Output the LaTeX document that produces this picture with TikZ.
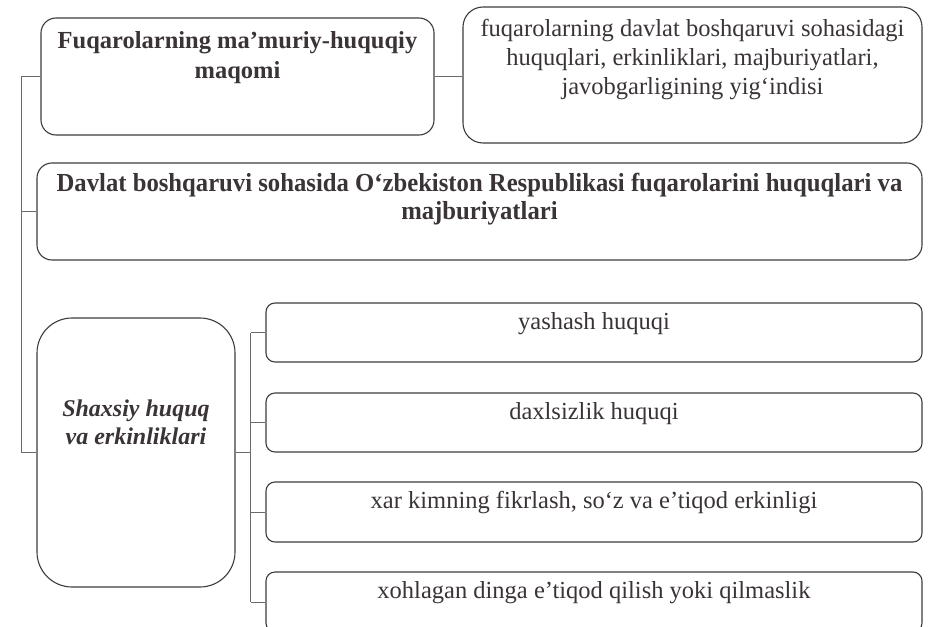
\documentclass[tikz,border=0pt]{standalone}
\usepackage{fontspec}
\setmainfont{Liberation Serif}
\newfontfamily\condfont[FakeStretch=0.95]{Liberation Serif}
\usetikzlibrary{calc}
\definecolor{txt}{HTML}{3A3436}
\definecolor{bord}{HTML}{3C3C3C}
\definecolor{conn}{HTML}{6A6A6A}
\tikzset{
  box/.style={draw=bord, line width=1.1pt, rounded corners=#1, inner sep=0pt},
  box/.default=15pt,
  lbl/.style={anchor=north, align=center, text=txt, inner sep=0pt, font=\fontsize{24.5}{29}\selectfont},
  conline/.style={draw=conn, line width=1pt}
}
\begin{document}
\begin{tikzpicture}[x=1pt,y=-1pt]
\clip (0,0) rectangle (928,626);
\fill[white] (0,0) rectangle (928,626);
% boxes
\node[box=15pt, minimum width=393pt, minimum height=117pt] (b1) at (237.5,76.5) {};
\node[box=20pt, minimum width=459pt, minimum height=136pt] (b2) at (692.5,75) {};
\node[box=15pt, minimum width=885pt, minimum height=97pt] (dv) at (479.5,211.5) {};
\node[box=35pt, minimum width=198pt, minimum height=269pt] (sh) at (136,452.5) {};
\node[box=9pt, minimum width=656pt, minimum height=59pt] (y1) at (594,332.5) {};
\node[box=9pt, minimum width=656pt, minimum height=59pt] (y2) at (594,422.5) {};
\node[box=9pt, minimum width=656pt, minimum height=60pt] (y3) at (594,512) {};
\node[box=9pt, minimum width=656pt, minimum height=60pt] (y4) at (594,602) {};
% texts
\node[lbl, font=\fontsize{24.5}{30}\selectfont\bfseries] (t1) at ($(b1.north)+(0,14)$) {Fuqarolarning ma’muriy-huquqiy\\maqomi};
\node[lbl] (t2) at ($(b2.north)+(0,13)$) {fuqarolarning davlat boshqaruvi sohasidagi\\huquqlari, erkinliklari, majburiyatlari,\\javobgarligining yig‘indisi};
\node[lbl, font=\fontsize{26}{28}\condfont\bfseries] (td) at ($(dv.north)+(0,11)$) {Davlat boshqaruvi sohasida O‘zbekiston Respublikasi fuqarolarini huquqlari va\\majburiyatlari};
\node[lbl, font=\fontsize{24}{28}\selectfont\bfseries\itshape] (ts) at (136,400) {Shaxsiy huquq\\va erkinliklari};
\node[lbl] (ty1) at ($(y1.north)+(0,10)$) {yashash huquqi};
\node[lbl] (ty2) at ($(y2.north)+(0,10)$) {daxlsizlik huquqi};
\node[lbl] (ty3) at ($(y3.north)+(0,10)$) {xar kimning fikrlash, so‘z va e’tiqod erkinligi};
\node[lbl] (ty4) at ($(y4.north)+(0,10)$) {xohlagan dinga e’tiqod qilish yoki qilmaslik};
% connectors
\coordinate (lt) at (21,76.5);
\coordinate (bx) at (250.5,0);
\draw[conline] (b1.west) -- (lt) -- (lt |- sh.west) -- (sh.west);
\draw[conline] (dv.west) -- (lt |- dv.west);
\draw[conline] (b1.east) -- (b1.east -| b2.west);
\draw[conline] (sh.east) -- (sh.east -| bx);
\draw[conline] (bx |- y1.west) -- (bx |- y4.west);
\draw[conline] (bx |- y1.west) -- (y1.west);
\draw[conline] (bx |- y2.west) -- (y2.west);
\draw[conline] (bx |- y3.west) -- (y3.west);
\draw[conline] (bx |- y4.west) -- (y4.west);
\end{tikzpicture}
\end{document}
